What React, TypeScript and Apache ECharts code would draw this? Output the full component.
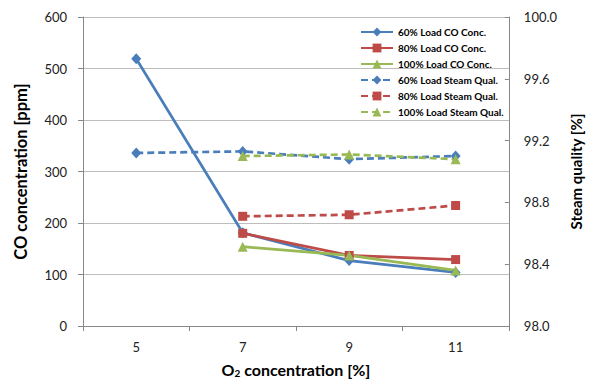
import React, { useEffect, useRef } from "react";
import * as echarts from "echarts";

const categories = ["5", "7", "9", "11"];
const coLoad60 = [519, 181, 127, 104];
const coLoad80 = [null, 180, 137, 129];
const coLoad100 = [null, 154, 137, 108];
const sqLoad60 = [99.12, 99.13, 99.08, 99.1];
const sqLoad80 = [null, 98.71, 98.72, 98.78];
const sqLoad100 = [null, 99.1, 99.11, 99.08];

const BLUE = "#4A7EBB";
const RED = "#BE4B48";
const GREEN = "#98B954";
const FONT = "Lato, 'Open Sans', sans-serif";

export default function App() {
  const ref = useRef<HTMLDivElement>(null);
  useEffect(() => {
    if (!ref.current) return;
    const chart = echarts.init(ref.current, undefined, { renderer: "svg" });
    const mk = (
      name: string,
      data: (number | null)[],
      color: string,
      symbol: string,
      symbolSize: number | number[],
      dashed: boolean,
      yAxisIndex: number
    ) => ({
      name,
      type: "line",
      data,
      yAxisIndex,
      symbol,
      symbolSize,
      showAllSymbol: true,
      connectNulls: false,
      itemStyle: { color },
      lineStyle: { color, width: 2.7, type: dashed ? [7, 4] : "solid" },
    });
    chart.setOption({
      animation: false,
      textStyle: { fontFamily: FONT },
      grid: { left: 83, right: 78, top: 17, bottom: 54 },
      legend: {
        orient: "vertical",
        left: 355,
        top: 22,
        itemWidth: 32,
        itemHeight: 11,
        itemGap: 6,
        textStyle: { fontFamily: FONT, fontSize: 10, fontWeight: "bold", color: "#000" },
        data: [
          "60% Load CO Conc.",
          "80% Load CO Conc.",
          "100% Load CO Conc.",
          "60% Load Steam Qual.",
          "80% Load Steam Qual.",
          "100% Load Steam Qual.",
        ],
      },
      xAxis: {
        type: "category",
        data: categories,
        boundaryGap: true,
        axisLine: { lineStyle: { color: "#888", width: 1 } },
        axisTick: { show: true, alignWithLabel: false, length: 5, lineStyle: { color: "#888" } },
        axisLabel: { color: "#222", fontSize: 13, margin: 14 },
        name: "{a|O}{s|2}{a| concentration [%]}",
        nameLocation: "middle",
        nameGap: 34,
        nameTextStyle: {
          rich: {
            a: { fontFamily: FONT, fontSize: 16, fontWeight: "bold", color: "#000" },
            s: { fontFamily: FONT, fontSize: 10, fontWeight: "bold", color: "#000", verticalAlign: "bottom", padding: [8, 0, 0, 0] },
          },
        },
      },
      yAxis: [
        {
          type: "value",
          min: 0,
          max: 600,
          interval: 100,
          axisLine: { show: true, lineStyle: { color: "#888" } },
          axisTick: { show: true, length: 5, lineStyle: { color: "#888" } },
          splitLine: { lineStyle: { color: "#bdbdbd", width: 1.2 } },
          axisLabel: { color: "#222", fontSize: 13, margin: 16 },
          name: "CO concentration [ppm]",
          nameLocation: "middle",
          nameGap: 54,
          nameTextStyle: { fontFamily: FONT, fontSize: 16.5, fontWeight: "bold", color: "#000" },
        },
        {
          type: "value",
          min: 98.0,
          max: 100.0,
          interval: 0.4,
          position: "right",
          axisLine: { show: true, lineStyle: { color: "#888" } },
          axisTick: { show: true, inside: true, length: 4, lineStyle: { color: "#888" } },
          splitLine: { show: false },
          axisLabel: { color: "#222", fontSize: 13, margin: 15, formatter: (v: number) => v.toFixed(1) },
          name: "Steam quality [%]",
          nameLocation: "middle",
          nameGap: 45,
          nameTextStyle: { fontFamily: FONT, fontSize: 15, fontWeight: "bold", color: "#000" },
        },
      ],
      series: [
        mk("60% Load CO Conc.", coLoad60, BLUE, "diamond", [10, 11], false, 0),
        mk("80% Load CO Conc.", coLoad80, RED, "rect", 9, false, 0),
        mk("100% Load CO Conc.", coLoad100, GREEN, "triangle", 10, false, 0),
        mk("60% Load Steam Qual.", sqLoad60, BLUE, "diamond", [10, 11], true, 1),
        mk("80% Load Steam Qual.", sqLoad80, RED, "rect", 9, true, 1),
        mk("100% Load Steam Qual.", sqLoad100, GREEN, "triangle", 10, true, 1),
      ],
    });
    return () => chart.dispose();
  }, []);
  return <div ref={ref} style={{ width: 591, height: 383, position: "absolute", left: 0, top: 0, background: "#fff" }} />;
}
